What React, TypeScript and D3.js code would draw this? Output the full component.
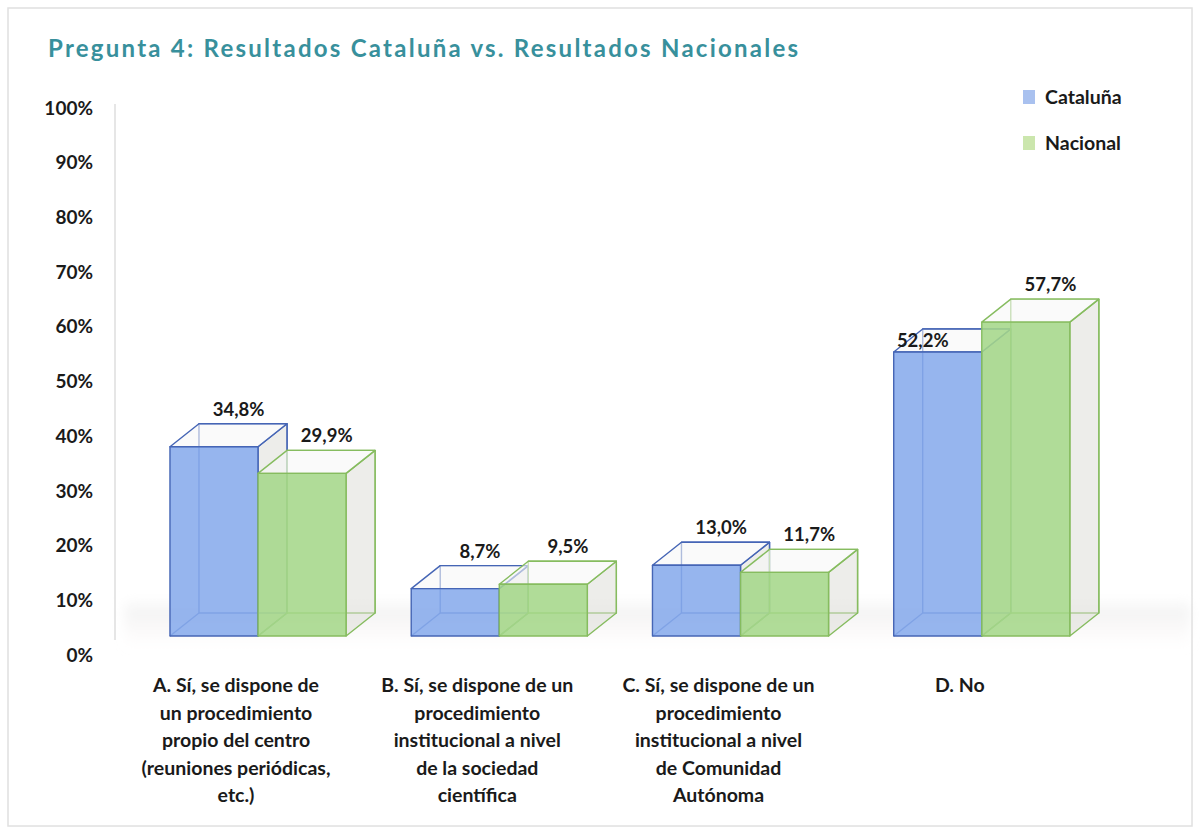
import { useEffect, useRef } from 'react';
import * as d3 from 'd3';

const CATEGORIES = ['A', 'B', 'C', 'D'];
const CATEGORY_LABELS = [
  ['A. Sí, se dispone de', 'un procedimiento', 'propio del centro', '(reuniones periódicas,', 'etc.)'],
  ['B. Sí, se dispone de un', 'procedimiento', 'institucional a nivel', 'de la sociedad', 'científica'],
  ['C. Sí, se dispone de un', 'procedimiento', 'institucional a nivel', 'de Comunidad', 'Autónoma'],
  ['D. No'],
];
const SERIES = ['Cataluña', 'Nacional'];
const CATALUNA = [34.8, 8.7, 13.0, 52.2];
const NACIONAL = [29.9, 9.5, 11.7, 57.7];
const Y_TICKS = [0, 10, 20, 30, 40, 50, 60, 70, 80, 90, 100];

const STYLE: Record<string, { fill: string; stroke: string; legend: string }> = {
  'Cataluña': { fill: '#88abec', stroke: '#4565b5', legend: '#a9c1ef' },
  'Nacional': { fill: '#a5d78a', stroke: '#86bc5f', legend: '#cbe6ad' },
};

const FONT = 'Lato, "Open Sans", sans-serif';
const W = 1200;
const H = 834;

export default function App() {
  const svgRef = useRef<SVGSVGElement>(null);

  useEffect(() => {
    document.body.style.margin = '0';
    const svg = d3.select(svgRef.current);
    svg.selectAll('*').remove();

    // 3D depth offset of the boxes
    const dx = 29;
    const dy = -23;

    const x = d3.scaleBand<string>().domain(CATEGORIES).range([137.4, 1102.4]).paddingInner(0.27).paddingOuter(0.135);
    const xs = d3.scaleBand<string>().domain(SERIES).range([0, x.bandwidth()]).padding(0);
    const yFront = d3.scaleLinear().domain([0, 100]).range([636, 92]);
    const yAxis = d3.scaleLinear().domain([0, 100]).range([655, 108]);

    const defs = svg.append('defs');
    const floorGrad = defs.append('linearGradient').attr('id', 'floor').attr('x1', 0).attr('y1', 0).attr('x2', 0).attr('y2', 1);
    floorGrad.append('stop').attr('offset', '0%').attr('stop-color', '#ffffff').attr('stop-opacity', 0);
    floorGrad.append('stop').attr('offset', '30%').attr('stop-color', '#e6e6e6').attr('stop-opacity', 0.5);
    floorGrad.append('stop').attr('offset', '100%').attr('stop-color', '#f6eeee').attr('stop-opacity', 0);
    defs.append('filter').attr('id', 'blur').append('feGaussianBlur').attr('stdDeviation', 6);

    // frame
    svg.append('rect').attr('x', 0).attr('y', 0).attr('width', W).attr('height', H).attr('fill', '#ffffff');
    svg.append('rect').attr('x', 8).attr('y', 8).attr('width', W - 16).attr('height', H - 16)
      .attr('fill', '#ffffff').attr('stroke', '#e0e0e0').attr('stroke-width', 1.5);

    // title
    svg.append('text').attr('x', 48).attr('y', 57)
      .attr('font-family', FONT).attr('font-weight', 700).attr('font-size', 24).attr('letter-spacing', 2.25)
      .attr('fill', '#38909c')
      .text('Pregunta 4: Resultados Cataluña vs. Resultados Nacionales');

    // floor shadow
    svg.append('rect').attr('x', 125).attr('y', 594).attr('width', 1065).attr('height', 56)
      .attr('fill', 'url(#floor)').attr('filter', 'url(#blur)');

    // axis line
    svg.append('line').attr('x1', 115).attr('x2', 115).attr('y1', 104).attr('y2', 640)
      .attr('stroke', '#e6e6e6').attr('stroke-width', 2);

    // y tick labels
    svg.append('g').selectAll('text').data(Y_TICKS).join('text')
      .attr('x', 93).attr('y', d => yAxis(d)).attr('dy', '0.35em')
      .attr('text-anchor', 'end').attr('font-family', FONT).attr('font-weight', 700).attr('font-size', 19)
      .attr('fill', '#1a1a1a')
      .text(d => `${d}%`);

    const values: Record<string, number[]> = { 'Cataluña': CATALUNA, 'Nacional': NACIONAL };
    const fmt = (v: number) => v.toFixed(1).replace('.', ',') + '%';

    const bars = svg.append('g');
    CATEGORIES.forEach((c, ci) => {
      SERIES.forEach((s) => {
        const v = values[s][ci];
        const st = STYLE[s];
        const x0 = (x(c) ?? 0) + (xs(s) ?? 0);
        const x1 = x0 + xs.bandwidth();
        const yT = yFront(v);
        const yB = yFront(0);
        const g = bars.append('g').attr('fill', 'none').attr('stroke', st.stroke).attr('stroke-width', 1.4)
          .attr('stroke-linejoin', 'round');
        const pts = (arr: [number, number][]) => arr.map(p => p.join(',')).join(' ');

        // back face
        g.append('polygon').attr('points', pts([[x0 + dx, yB + dy], [x1 + dx, yB + dy], [x1 + dx, yT + dy], [x0 + dx, yT + dy]]))
          .attr('fill', '#ffffff').attr('fill-opacity', 0.35);
        // hidden depth edge on the floor
        g.append('line').attr('x1', x0).attr('y1', yB).attr('x2', x0 + dx).attr('y2', yB + dy);
        // right side face
        g.append('polygon').attr('points', pts([[x1, yB], [x1 + dx, yB + dy], [x1 + dx, yT + dy], [x1, yT]]))
          .attr('fill', '#dcdcd6').attr('fill-opacity', 0.5);
        // top face
        g.append('polygon').attr('points', pts([[x0, yT], [x0 + dx, yT + dy], [x1 + dx, yT + dy], [x1, yT]]))
          .attr('fill', '#f6f6f6').attr('fill-opacity', 0.6);
        // front face
        g.append('rect').attr('x', x0).attr('y', yT).attr('width', x1 - x0).attr('height', yB - yT)
          .attr('fill', st.fill).attr('fill-opacity', 0.88);
      });
    });

    // data labels
    const labels = svg.append('g').attr('font-family', FONT).attr('font-weight', 700).attr('font-size', 18.5)
      .attr('fill', '#1a1a1a').attr('text-anchor', 'middle');
    CATEGORIES.forEach((c, ci) => {
      SERIES.forEach((s, si) => {
        const v = values[s][ci];
        const x0 = (x(c) ?? 0) + (xs(s) ?? 0);
        let lx = x0 + xs.bandwidth() / 2 + dx * 0.85;
        let ly = yFront(v) + dy - 8;
        // label pushed aside when the neighbouring bar is taller
        const next = SERIES[si + 1];
        if (next && values[next][ci] > v + 3) {
          lx = x0 + xs.bandwidth() / 2 - 15;
          ly = yFront(v) + dy + 18;
        }
        labels.append('text').attr('x', lx).attr('y', ly).text(fmt(v));
      });
    });

    // category labels
    const cat = svg.append('g').attr('font-family', FONT).attr('font-weight', 700).attr('font-size', 19.5)
      .attr('fill', '#1a1a1a').attr('text-anchor', 'middle');
    CATEGORIES.forEach((c, ci) => {
      const cx = (x(c) ?? 0) + x.bandwidth() / 2 - 22;
      const t = cat.append('text').attr('x', cx).attr('y', 692);
      CATEGORY_LABELS[ci].forEach((line, li) => {
        t.append('tspan').attr('x', cx).attr('dy', li === 0 ? 0 : 27.5).text(line);
      });
    });

    // legend
    const lg = svg.append('g').attr('font-family', FONT).attr('font-weight', 700).attr('font-size', 19.5).attr('fill', '#1a1a1a');
    SERIES.forEach((s, i) => {
      const yy = 97 + i * 46;
      lg.append('rect').attr('x', 1023).attr('y', yy - 7).attr('width', 12).attr('height', 14).attr('fill', STYLE[s].legend);
      lg.append('text').attr('x', 1045).attr('y', yy).attr('dy', '0.35em').text(s);
    });
  }, []);

  return <svg ref={svgRef} width={W} height={H} style={{ display: 'block' }} />;
}
